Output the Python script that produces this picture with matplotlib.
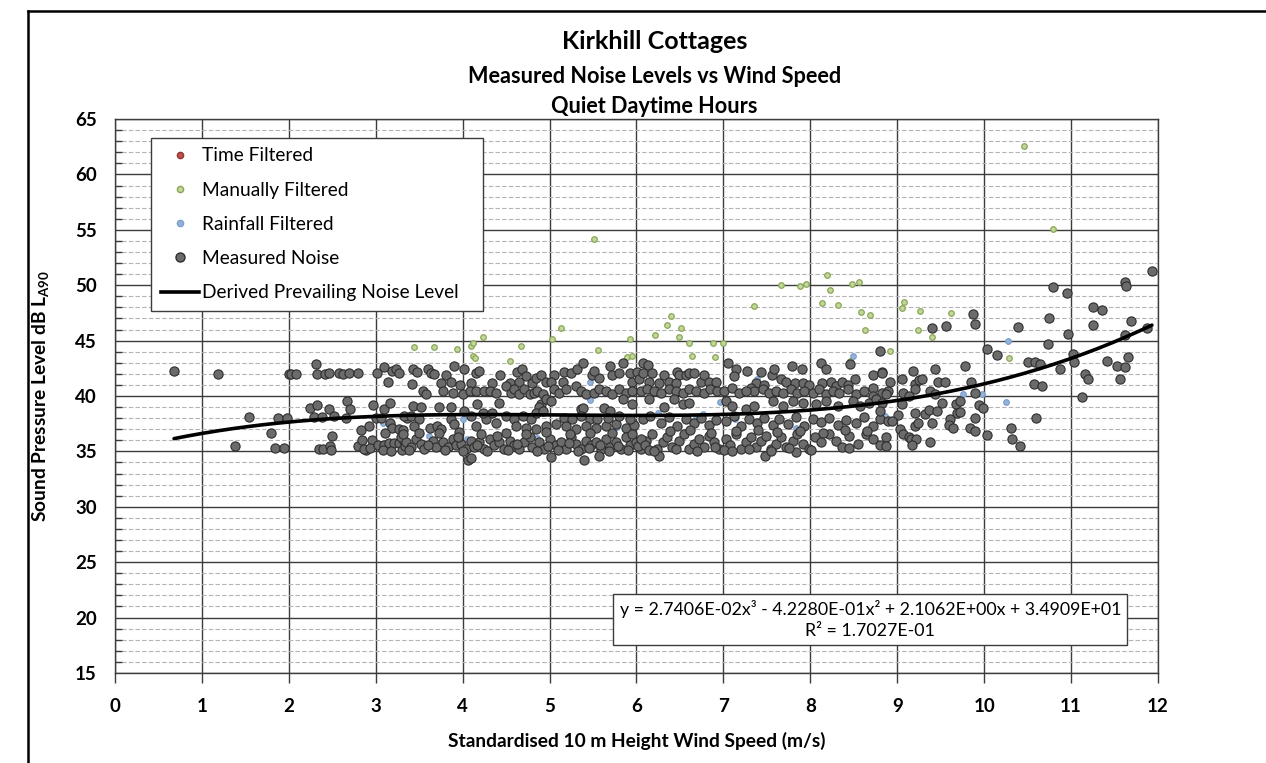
import numpy as np
import matplotlib
matplotlib.use("Agg")
import matplotlib.pyplot as plt
from matplotlib.lines import Line2D
from matplotlib.ticker import MultipleLocator

plt.rcParams['font.family'] = ['Lato', 'DejaVu Sans']
plt.rcParams['mathtext.fontset'] = 'custom'
plt.rcParams['mathtext.rm'] = 'Lato'
plt.rcParams['mathtext.bf'] = 'Lato:bold'
plt.rcParams['mathtext.default'] = 'bf'

# trend fit coefficients (cubic), highest power first
fit_coeffs = [2.7406e-02, -4.2280e-01, 2.1062e+00, 3.4909e+01]
fit_r2 = 1.7027e-01
fit_range = [0.68, 11.93]

# manually filtered samples (wind speed m/s, dB LA90)
manual_x = [3.44, 3.67, 3.93, 4.10, 4.12, 4.23, 4.12, 4.14, 4.55, 4.67, 5.03, 5.13,
            5.51, 5.56, 5.92, 5.89, 5.95, 6.21, 6.35, 6.40, 6.49, 6.51, 6.60, 6.64,
            6.88, 6.90, 7.00, 7.35, 7.66, 7.88, 7.95, 8.13, 8.19, 8.23, 8.32, 8.46,
            8.48, 8.56, 8.58, 8.63, 8.69, 8.92, 9.05, 9.08, 9.24, 9.26, 9.40, 9.62,
            10.29, 10.46, 10.79]
manual_y = [44.45, 44.4, 44.2, 44.55, 44.8, 45.3, 43.6, 43.4, 43.2, 44.55, 45.15, 46.1,
            54.15, 44.15, 45.1, 43.55, 43.6, 45.55, 46.45, 47.25, 45.3, 46.15, 44.75, 43.65,
            44.75, 43.5, 44.75, 48.1, 50.05, 49.9, 50.1, 48.4, 50.9, 49.6, 48.2, 43.2,
            50.15, 50.25, 47.6, 46.0, 47.3, 44.1, 47.9, 48.5, 46.0, 47.7, 45.3, 47.45,
            43.4, 62.6, 55.1]

# rainfall filtered samples
rain_x = [3.08, 3.61, 4.00, 4.05, 4.85, 5.03, 5.46, 5.46, 5.78, 5.80, 6.25, 6.69,
          6.76, 6.96, 7.13, 7.39, 7.84, 8.49, 8.66, 8.86, 9.76, 9.97, 10.25, 10.27]
rain_y = [37.55, 36.4, 37.95, 36.1, 36.2, 35.95, 41.25, 39.6, 37.2, 35.4, 38.5, 38.05,
          38.4, 39.45, 37.9, 41.5, 37.15, 43.6, 36.3, 38.2, 40.15, 40.2, 39.45, 44.95]

# time filtered samples (none in this period)
time_x = []
time_y = []

# measured noise samples
measured_x = [
    0.68, 1.19, 1.38, 1.54, 1.79, 1.84, 1.88, 1.95, 1.98, 2.00, 2.03, 2.08,
    2.31, 2.33, 2.42, 2.46, 2.58, 2.62, 2.69, 2.80, 2.24, 2.33, 2.46, 2.29,
    2.38, 2.52, 2.67, 2.70, 2.66, 2.50, 2.35, 2.39, 2.47, 2.49, 2.83, 2.92,
    2.80, 2.84, 2.89, 2.96, 2.97, 2.86, 2.93, 3.00,
    3.02, 3.10, 3.14, 3.19, 3.23, 3.27, 3.10, 3.17, 3.17, 3.19, 3.27, 3.31,
    3.11, 3.03, 3.10, 3.15, 3.21, 3.27, 3.32, 3.08, 3.18, 3.30, 3.34, 3.36, 3.06,
    3.43, 3.48, 3.60, 3.64, 3.67, 3.81, 3.90, 4.02, 4.15, 4.19, 3.75, 3.87,
    3.42, 3.97, 4.10, 4.34, 4.43, 4.54, 4.63, 4.68, 4.73, 4.80, 4.84, 4.90,
    5.05, 5.15, 5.17, 5.25, 5.32, 5.38, 5.49, 5.57, 5.51, 5.69, 5.72, 5.80,
    5.84, 5.92, 6.01, 5.95, 6.03, 4.50, 4.65, 4.96, 5.02,
    3.54, 3.58, 3.77, 3.89, 4.00, 4.08, 4.15, 4.25, 4.31, 4.38, 4.42, 4.56,
    4.59, 4.65, 4.71, 4.77, 4.82, 4.86, 4.92, 4.90, 4.96, 5.05, 5.11, 5.19,
    5.30, 5.36, 5.42, 5.51, 5.57, 5.65, 5.72, 5.80, 5.88, 5.95, 5.36, 5.38,
    5.63, 5.69, 5.84, 5.95, 3.43, 3.52, 3.73, 3.87, 4.16, 4.88, 5.02,
    3.33, 3.41, 3.50, 3.44, 3.62, 3.71, 3.75, 3.87, 3.90, 4.02, 4.10, 4.15,
    4.27, 4.38, 4.50, 4.59, 4.69, 4.79, 4.84, 4.92, 4.61, 4.73, 4.84, 4.96,
    5.07, 5.17, 5.26, 5.36, 5.46, 5.55, 5.19, 5.30, 5.42, 5.53, 5.65, 5.76,
    5.88, 5.97, 5.67, 5.80, 5.92, 4.23, 4.34,
    3.29, 3.35, 3.41, 3.46, 3.52, 3.56, 3.66, 3.69, 3.77, 3.83, 3.89, 3.92,
    3.98, 4.04, 4.10, 4.13, 4.19, 4.25, 4.31, 4.36, 4.42, 4.48, 4.54, 4.59,
    4.65, 4.71, 4.77, 4.80, 4.88, 4.94, 5.00, 5.07, 5.13, 5.19, 5.25, 5.30,
    5.36, 5.42, 5.48, 5.53, 5.59, 5.65, 5.70, 5.76, 5.82, 5.88, 5.93, 5.99,
    6.05, 6.11,
    3.31, 3.50, 3.73, 3.96, 4.21, 4.50, 4.73, 4.96, 5.23, 5.46, 5.72, 5.95,
    4.06, 4.10, 5.02, 5.40, 5.57,
    3.38, 3.60, 3.80, 3.95, 4.00, 4.16, 4.28, 4.40, 4.52, 4.62, 4.85, 4.98,
    5.10, 5.22, 5.33, 5.45, 5.58, 5.68, 5.79, 5.90, 6.02,
    6.07, 6.13, 6.08, 6.18, 6.14, 6.26, 6.32, 6.37, 6.47, 6.49, 6.45, 6.57,
    6.60, 6.66, 6.74, 6.78, 6.83, 6.91, 7.05, 7.14, 7.12, 7.27, 7.43, 7.56,
    7.58, 7.79, 7.90, 7.66, 7.72, 7.82, 7.91, 7.99, 7.37, 7.47, 7.32, 7.35,
    8.12, 8.18, 8.14, 8.24, 8.30, 8.37, 8.43, 8.51, 8.72, 8.82, 8.80, 8.72, 8.46,
    6.05, 6.12, 6.20, 6.28, 6.37, 6.45, 6.53, 6.60, 6.68, 6.78, 6.85, 6.93,
    7.01, 7.10, 7.18, 7.26, 7.45, 7.53, 7.60, 7.68, 7.78, 7.85, 7.93, 8.03,
    8.10, 8.18, 8.26, 8.33, 8.43, 8.53, 8.62, 8.72, 8.82, 8.89,
    6.14, 6.32, 6.43, 6.53, 6.60, 7.03, 7.10, 7.26, 7.35, 7.57, 7.68, 7.80,
    7.91, 8.07, 8.18, 8.32, 8.49, 8.57, 8.68, 8.76,
    6.07, 6.16, 6.28, 6.37, 6.47, 6.57, 6.66, 6.74, 6.83, 6.91, 7.03, 7.12,
    7.20, 7.30, 7.39, 7.47, 7.57, 7.64, 7.74, 7.83, 7.93, 8.03, 8.12, 8.22,
    8.32, 8.41, 8.53, 8.62, 8.72, 8.80, 8.89,
    6.05, 6.10, 6.18, 6.24, 6.30, 6.35, 6.41, 6.49, 6.55, 6.60, 6.66, 6.72,
    6.78, 6.83, 6.89, 6.95, 7.03, 7.08, 7.14, 7.20, 7.26, 7.32, 7.37, 7.43,
    7.49, 7.55, 7.60, 7.66, 7.72, 7.80, 7.85, 7.91, 7.99, 8.05, 8.12, 8.22,
    8.30, 8.37, 8.45, 8.55, 8.64, 8.72, 8.80, 8.87,
    6.26, 7.48, 7.83, 8.01, 8.45, 6.14, 7.01, 6.20, 6.45, 6.70, 6.90, 7.10,
    7.30, 7.55, 7.75, 6.38, 6.62, 6.86, 7.15, 7.40, 7.62, 7.88, 8.15, 8.40, 8.65,
    8.83, 8.92, 8.87, 8.83, 8.80, 8.87, 9.06, 9.18, 9.21, 9.25, 9.28, 9.20,
    9.07, 9.14, 9.05, 9.01, 8.94, 9.03, 9.07, 9.13, 9.16, 9.22, 9.17, 9.38,
    9.21, 9.32, 9.36, 9.46, 9.40, 9.20, 9.24, 9.44, 9.38, 9.43, 9.47, 9.55,
    9.51, 9.61, 9.59, 9.64, 9.68, 9.72, 9.69, 9.72, 9.78, 9.85, 9.89, 9.94,
    9.99, 9.90, 9.84, 9.90, 10.03,
    9.87, 9.90, 9.40, 9.56, 10.39, 10.75, 10.79, 10.95, 10.97, 10.74, 11.02, 11.03,
    10.87, 10.50, 10.58, 10.64, 10.57, 10.67, 10.60, 11.12, 10.31, 10.32, 10.41, 10.15,
    10.03, 11.25, 11.35, 11.25, 11.62, 11.63, 11.93, 11.69, 11.62, 11.87, 11.65, 11.41,
    11.53, 11.62, 11.16, 11.20, 11.56,
]
measured_y = [
    42.3, 42.0, 35.45, 38.1, 36.65, 35.35, 38.05, 35.35, 38.0, 42.0, 42.0, 42.0,
    42.9, 42.0, 42.0, 42.1, 42.1, 42.0, 42.1, 42.1, 38.95, 39.2, 38.85, 38.1,
    38.1, 38.2, 39.55, 38.85, 38.05, 36.4, 35.2, 35.2, 35.45, 35.1, 36.95, 37.3,
    35.5, 36.05, 35.15, 36.05, 39.15, 35.2, 35.3, 38.0,
    42.1, 42.6, 41.25, 42.3, 42.45, 42.1, 38.85, 39.35, 37.55, 37.15, 37.0, 36.9,
    36.7, 35.6, 35.55, 35.75, 35.75, 35.8, 35.95, 35.15, 35.05, 35.15, 35.5, 38.0, 38.05,
    42.4, 42.2, 42.4, 42.1, 42.0, 41.9, 42.7, 42.4, 42.1, 42.3, 41.2, 41.3,
    41.1, 41.0, 41.2, 41.2, 41.9, 41.2, 42.2, 42.45, 41.8, 41.2, 41.6, 41.9,
    41.9, 41.3, 42.2, 42.1, 42.4, 43.0, 41.9, 41.6, 42.3, 42.7, 41.9, 42.1,
    43.0, 42.1, 42.2, 41.3, 41.5, 40.9, 41.3, 41.3, 41.3,
    40.45, 40.15, 40.45, 40.3, 40.15, 40.45, 40.45, 40.45, 40.45, 40.3, 39.4, 40.3,
    40.6, 40.15, 40.6, 40.15, 40.3, 40.45, 40.15, 39.25, 39.7, 40.6, 40.3, 40.6,
    40.9, 40.45, 40.15, 40.3, 40.6, 40.45, 40.15, 40.6, 40.3, 40.45, 38.8, 38.95,
    38.95, 38.65, 39.7, 39.25, 39.1, 39.05, 39.05, 39.05, 39.25, 39.05, 39.55,
    38.2, 38.2, 37.9, 37.3, 37.15, 37.3, 37.0, 37.9, 37.45, 38.65, 38.2, 37.3,
    37.9, 37.6, 38.2, 37.9, 38.2, 37.9, 38.5, 38.65, 37.3, 37.15, 37.0, 37.3,
    37.45, 38.05, 37.9, 38.2, 37.9, 37.9, 37.3, 37.0, 37.3, 37.15, 37.3, 37.45,
    37.15, 37.4, 38.05, 38.2, 37.9, 38.5, 38.5,
    36.28, 35.83, 35.39, 36.13, 35.68, 35.24, 35.98, 35.39, 35.83, 35.39, 36.13, 35.54,
    35.68, 35.24, 35.98, 35.39, 35.83, 35.24, 36.13, 35.54, 35.83, 35.24, 35.98, 35.54,
    35.24, 35.83, 36.28, 35.39, 35.83, 35.24, 36.13, 35.54, 35.83, 35.24, 36.28, 35.68,
    35.24, 35.98, 35.54, 35.83, 35.24, 36.13, 35.39, 35.83, 35.24, 36.28, 35.54, 35.83,
    35.24, 35.98,
    36.6, 36.7, 36.65, 36.75, 36.6, 36.7, 36.6, 36.75, 36.6, 36.7, 36.65, 36.6,
    34.2, 34.4, 34.5, 34.2, 34.6,
    35.1, 35.6, 35.1, 36.3, 35.0, 35.6, 35.0, 36.4, 35.1, 35.7, 35.0, 35.5,
    35.1, 35.8, 35.0, 35.3, 35.6, 35.0, 35.5, 35.1, 35.5,
    42.98, 42.8, 42.1, 42.1, 41.3, 41.2, 41.9, 41.3, 42.2, 41.9, 41.2, 41.9,
    42.1, 42.1, 41.3, 41.9, 41.3, 41.3, 43.0, 42.4, 41.8, 42.3, 42.2, 41.9,
    42.4, 42.7, 42.45, 41.5, 41.3, 41.2, 41.2, 41.0, 41.2, 41.0, 40.75, 40.45,
    43.0, 42.4, 41.2, 41.3, 40.9, 41.3, 41.0, 41.5, 41.9, 42.2, 44.1, 40.75, 42.85,
    40.45, 40.6, 40.45, 40.3, 40.6, 40.45, 40.3, 40.6, 40.45, 40.3, 40.6, 40.45,
    40.45, 40.75, 40.3, 40.45, 40.6, 40.3, 40.45, 40.3, 40.6, 40.3, 40.45, 40.3,
    40.6, 40.15, 40.45, 40.3, 40.6, 40.15, 40.45, 40.0, 40.3, 40.45,
    39.7, 39.05, 39.7, 39.25, 39.4, 39.55, 39.1, 38.8, 39.1, 39.55, 39.1, 39.55,
    39.4, 39.25, 39.55, 39.1, 39.55, 39.1, 39.4, 39.7,
    37.9, 38.2, 37.6, 38.1, 37.3, 37.95, 37.55, 38.0, 37.35, 37.85, 37.7, 38.15,
    37.25, 37.9, 37.6, 38.05, 37.4, 37.95, 37.5, 38.1, 37.3, 37.9, 37.65, 38.0,
    37.35, 37.85, 37.6, 38.1, 37.3, 37.95, 37.7,
    36.13, 35.54, 36.58, 35.24, 35.83, 36.28, 35.39, 35.98, 36.58, 35.24, 35.68, 36.13,
    35.39, 36.43, 35.83, 35.24, 36.13, 35.54, 36.58, 35.24, 35.83, 36.28, 35.39, 35.98,
    36.43, 35.24, 35.68, 36.28, 35.39, 35.98, 36.58, 35.68, 35.24, 36.28, 35.83, 36.58,
    35.98, 35.39, 36.43, 35.68, 36.58, 36.13, 35.54, 36.28,
    34.58, 34.58, 34.9, 35.1, 35.3, 35.1, 35.1, 35.0, 35.2, 35.0, 35.4, 35.0,
    35.2, 35.0, 35.3, 36.8, 36.9, 36.7, 36.8, 36.9, 36.75, 36.85, 36.7, 36.9, 36.8,
    42.1, 41.26, 40.15, 39.4, 38.65, 35.45, 41.56, 42.3, 41.1, 41.4, 41.5, 40.66,
    40.3, 40.0, 39.25, 38.3, 37.7, 37.0, 36.6, 36.3, 36.1, 36.1, 35.6, 35.87,
    38.5, 38.4, 38.7, 38.65, 37.6, 37.25, 37.6, 42.4, 40.45, 40.15, 41.26, 41.26,
    39.34, 37.9, 37.4, 37.07, 39.25, 39.55, 38.47, 38.6, 42.75, 41.26, 40.24, 39.19,
    38.95, 38.05, 37.1, 36.85, 36.47,
    47.43, 46.53, 46.14, 46.35, 46.2, 47.07, 49.85, 49.28, 45.6, 44.67, 43.83, 43.05,
    42.45, 43.11, 43.11, 42.9, 41.08, 40.9, 38.02, 39.9, 37.1, 36.1, 35.45, 43.68,
    44.25, 47.99, 47.78, 46.4, 50.3, 49.94, 51.32, 46.8, 45.54, 46.14, 43.56, 43.2,
    42.75, 42.66, 42.0, 41.56, 41.56,
]

fig = plt.figure(figsize=(12.66, 7.63), dpi=100)
ax = fig.add_axes([0.0908, 0.118, 0.8239, 0.726])

ax.set_xlim(0, 12)
ax.set_ylim(15, 65)
ax.xaxis.set_major_locator(MultipleLocator(1))
ax.yaxis.set_major_locator(MultipleLocator(5))
ax.yaxis.set_minor_locator(MultipleLocator(1))

ax.grid(which='major', axis='both', color='#3c3c3c', linewidth=1.0, zorder=0)
ax.grid(which='minor', axis='y', color='#b4b4b4', linewidth=0.8,
        linestyle=(0, (4, 2)), zorder=0)
ax.set_axisbelow(True)
for side in ax.spines.values():
    side.set_color('#3c3c3c')
    side.set_linewidth(1.0)

ax.tick_params(axis='x', which='major', direction='out', length=7, width=1,
               color='#3c3c3c', labelsize=13.5, pad=11)
ax.tick_params(axis='y', which='major', length=0, labelsize=13.5, pad=13)
ax.tick_params(axis='y', which='minor', direction='in', length=5, width=1,
               color='#3c3c3c')
for lbl in ax.get_xticklabels() + ax.get_yticklabels():
    lbl.set_fontweight('bold')

ax.scatter(time_x, time_y, s=14, facecolor='#c0504d', edgecolor='#943634',
           linewidths=0.6, zorder=2)
ax.scatter(manual_x, manual_y, s=16, facecolor='#c3d69b', edgecolor='#8aa655',
           linewidths=0.9, zorder=2)
ax.scatter(rain_x, rain_y, s=16, facecolor='#95b3d7', edgecolor='#7c9fcc',
           linewidths=0.9, zorder=2)
ax.scatter(measured_x, measured_y, s=44, facecolor='#6b6b6b', edgecolor='#2e2e2e',
           linewidths=0.8, zorder=3)

xs = np.linspace(fit_range[0], fit_range[1], 200)
ax.plot(xs, np.polyval(fit_coeffs, xs), color='black', linewidth=2.6, zorder=4,
        solid_capstyle='round')

ax.set_xlabel('Standardised 10 m Height Wind Speed (m/s)', fontsize=13.8,
              fontweight='bold', labelpad=12)
ax.set_ylabel(r'Sound Pressure Level dB L$_{A90}$', fontsize=13.8, fontweight='bold')
ax.yaxis.set_label_coords(-0.061, 0.5)

handles = [
    Line2D([], [], linestyle='none', marker='o', markersize=4.5,
           markerfacecolor='#c0504d', markeredgecolor='#943634'),
    Line2D([], [], linestyle='none', marker='o', markersize=4.5,
           markerfacecolor='#c3d69b', markeredgecolor='#8aa655'),
    Line2D([], [], linestyle='none', marker='o', markersize=4.5,
           markerfacecolor='#95b3d7', markeredgecolor='#7c9fcc'),
    Line2D([], [], linestyle='none', marker='o', markersize=6.5,
           markerfacecolor='#6b6b6b', markeredgecolor='#2e2e2e'),
    Line2D([], [], color='black', linewidth=2.6),
]
labels = ['Time Filtered', 'Manually Filtered', 'Rainfall Filtered',
          'Measured Noise', 'Derived Prevailing Noise Level']
leg = ax.legend(handles, labels, loc='upper left', mode='expand',
                bbox_to_anchor=(0.035, 0.657, 0.318, 0.309), fontsize=13.8,
                frameon=True, fancybox=False, edgecolor='#3c3c3c', framealpha=1,
                handlelength=2.0, handletextpad=0.15, labelspacing=0.9,
                borderpad=0.5, borderaxespad=0)
leg.get_frame().set_linewidth(1.0)
leg.set_zorder(6)

eq = ('y = 2.7406E-02x³ - 4.2280E-01x² + 2.1062E+00x + 3.4909E+01\n'
      'R² = 1.7027E-01')
ax.text(8.69, 19.85, eq, fontsize=12.8, ha='center', va='center',
        linespacing=1.35, zorder=6,
        bbox=dict(boxstyle='square,pad=0.35', facecolor='white',
                  edgecolor='#3c3c3c', linewidth=1.0))

fig.text(0.517, 0.946, 'Kirkhill Cottages', ha='center', va='center',
         fontsize=18, fontweight='bold')
fig.text(0.517, 0.900, 'Measured Noise Levels vs Wind Speed', ha='center',
         va='center', fontsize=15.6, fontweight='bold')
fig.text(0.517, 0.860, 'Quiet Daytime Hours', ha='center', va='center',
         fontsize=15.6, fontweight='bold')

# outer frame edges
fig.add_artist(Line2D([0.0221, 1.0], [0.9856, 0.9856], color='black',
                      linewidth=1.8, transform=fig.transFigure))
fig.add_artist(Line2D([0.0221, 0.0221], [0.0, 0.9856], color='black',
                      linewidth=1.8, transform=fig.transFigure))

fig.savefig('out.png', dpi=100)
